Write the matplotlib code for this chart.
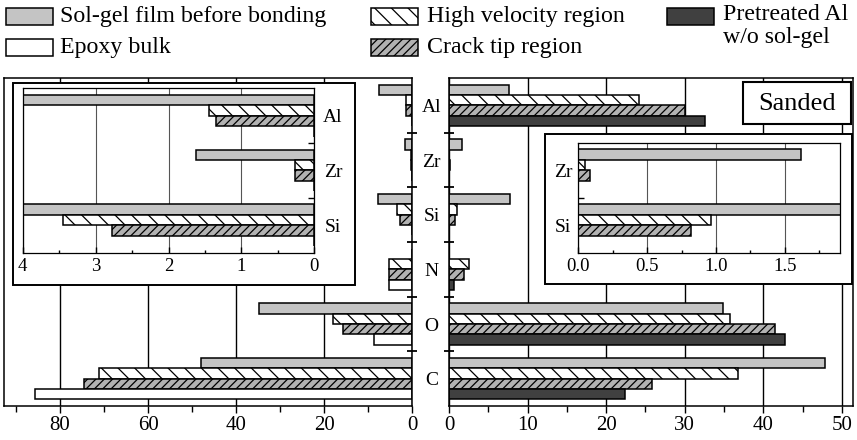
import numpy as np
import matplotlib
matplotlib.use("Agg")
import matplotlib.pyplot as plt
from matplotlib.patches import Rectangle

plt.rcParams['font.family'] = ['Liberation Serif', 'DejaVu Serif']
plt.rcParams['hatch.linewidth'] = 0.9
plt.rcParams['axes.linewidth'] = 1.1

# data (atomic %)
elements = ['Al', 'Zr', 'Si', 'N', 'O', 'C']
sol_gel = [7.6, 1.62, 7.8, 0, 34.8, 47.9]
# left panel: after bonding, epoxy side
high_vel_l = [1.45, 0.27, 3.45, 5.3, 17.9, 71.1]
crack_l = [1.35, 0.27, 2.78, 5.2, 15.7, 74.5]
epoxy = [0, 0, 0, 5.2, 8.8, 85.7]
# right panel: metal side
high_vel_r = [24.2, 0.05, 0.96, 2.5, 35.7, 36.8]
crack_r = [30.0, 0.085, 0.82, 1.85, 41.5, 25.8]
pretreated = [32.6, 0, 0, 0.6, 42.8, 22.4]

labels = ['Sol-gel film before bonding', 'High velocity region',
          'Pretreated Al\nw/o sol-gel', 'Epoxy bulk', 'Crack tip region']

GRAY = dict(facecolor='#c4c4c4')
HV = dict(facecolor='white', hatch='\\\\')
CT = dict(facecolor='#b2b2b2', hatch='////')
EP = dict(facecolor='white')
PA = dict(facecolor='#404040')

W, H = 857, 440
fig = plt.figure(figsize=(W / 100, H / 100), dpi=100)


def rect(x0, y0, x1, y1):
    return [x0 / W, 1 - y1 / H, (x1 - x0) / W, (y1 - y0) / H]


bh = 0.19
ypos = np.arange(len(elements))


def draw_bars(ax, series, styles):
    for k, (vals, st) in enumerate(zip(series, styles)):
        ax.barh(ypos + (k - 1.5) * bh, vals, height=bh, edgecolor='black',
                linewidth=1.1, **st)


ax_l = fig.add_axes(rect(4, 78, 412.3, 406))
ax_r = fig.add_axes(rect(449, 78, 853, 406))

draw_bars(ax_l, [sol_gel, high_vel_l, crack_l, epoxy], [GRAY, HV, CT, EP])
draw_bars(ax_r, [sol_gel, high_vel_r, crack_r, pretreated], [GRAY, HV, CT, PA])

ax_l.set_xlim(92.7, 0)
ax_l.set_xticks([0, 20, 40, 60, 80])
ax_l.set_xticks(np.arange(10, 91, 20), minor=True)
ax_r.set_xlim(0, 51.4)
ax_r.set_xticks([0, 10, 20, 30, 40, 50])
ax_r.set_xticks(np.arange(5, 51, 10), minor=True)

for ax in (ax_l, ax_r):
    ax.set_ylim(5.5, -0.5)
    ax.set_axisbelow(True)
    ax.grid(axis='x', which='major', color='black', linewidth=1.0)
    ax.tick_params(axis='x', which='major', direction='out', length=5, width=1,
                   labelsize=15, pad=2)
    ax.tick_params(axis='x', which='minor', direction='out', length=4, width=1)
    ax.set_yticks(np.arange(0.5, 5, 1), minor=True)
    ax.tick_params(axis='y', which='minor', direction='inout', length=7, width=1.3)

ax_l.yaxis.tick_right()
ax_l.set_yticks([])
ax_l.set_yticks(np.arange(0.5, 5, 1), minor=True)
ax_r.set_yticks(ypos, elements)
ax_r.tick_params(axis='y', which='major', length=0, pad=12.5, labelsize=14)
for t in ax_r.get_yticklabels():
    t.set_horizontalalignment('center')

# overlay for boxes and legend, in pixel coordinates
lay = fig.add_axes([0, 0, 1, 1], zorder=2)
lay.set_xlim(0, W)
lay.set_ylim(H, 0)
lay.axis('off')

lay.add_patch(Rectangle((13.3, 83.3), 341.7, 201.7, facecolor='white',
                        edgecolor='black', linewidth=1.4))
lay.add_patch(Rectangle((545, 134.3), 306.7, 150, facecolor='white',
                        edgecolor='black', linewidth=1.4))
lay.add_patch(Rectangle((743.5, 82.3), 107.5, 42, facecolor='white',
                        edgecolor='black', linewidth=1.5))
lay.text(797, 103.5, 'Sanded', fontsize=19, ha='center', va='center')

leg_styles = [GRAY, HV, PA, EP, CT]
leg_pos = [(6, 8, 60), (370.7, 8, 427), (667.3, 8, 723), (6, 39, 60), (370.7, 39, 427)]
for st, lab, (px, py, tx) in zip(leg_styles, labels, leg_pos):
    lay.add_patch(Rectangle((px, py), 47, 17, edgecolor='black', linewidth=1.1, **st))
    if '\n' in lab:
        lay.text(tx, py - 3.5, lab, fontsize=17.2, ha='left', va='top', linespacing=1.1)
    else:
        lay.text(tx, py + 8.5, lab, fontsize=17.2, ha='left', va='center')

# insets
ax_il = fig.add_axes(rect(22.7, 88.3, 314.3, 252.7), zorder=3)
draw_bars(ax_il, [sol_gel, high_vel_l, crack_l, epoxy], [GRAY, HV, CT, EP])
ax_il.set_xlim(4, 0)
ax_il.set_ylim(2.5, -0.5)
ax_il.set_xticks([0, 1, 2, 3, 4])
ax_il.set_xticks(np.arange(0.5, 4, 1), minor=True)
ax_il.yaxis.tick_right()
ax_il.set_yticks([0, 1, 2], elements[:3])
ax_il.set_yticks([0.5, 1.5], minor=True)
ax_il.tick_params(axis='y', which='major', length=0, pad=13.5, labelsize=14)
for t in ax_il.get_yticklabels():
    t.set_horizontalalignment('center')

ax_ir = fig.add_axes(rect(578.3, 142.7, 840, 252.7), zorder=3)
draw_bars(ax_ir, [sol_gel, high_vel_r, crack_r, pretreated], [GRAY, HV, CT, PA])
ax_ir.set_xlim(0, 1.9)
ax_ir.set_ylim(2.5, 0.5)
ax_ir.set_xticks([0, 0.5, 1.0, 1.5], ['0.0', '0.5', '1.0', '1.5'])
ax_ir.set_xticks(np.arange(0.25, 1.9, 0.5), minor=True)
ax_ir.set_yticks([1, 2], elements[1:3])
ax_ir.set_yticks([1.5], minor=True)
ax_ir.tick_params(axis='y', which='major', length=0, pad=11, labelsize=14)
for t in ax_ir.get_yticklabels():
    t.set_horizontalalignment('center')

for ax in (ax_il, ax_ir):
    ax.set_axisbelow(True)
    ax.grid(axis='x', which='major', color='#555555', linewidth=0.8)
    ax.tick_params(axis='x', which='major', direction='in', length=4, width=1,
                   labelsize=13.5, pad=4)
    ax.tick_params(axis='x', which='minor', direction='in', length=2.5, width=1)
    ax.tick_params(axis='y', which='minor', direction='in', length=4, width=1)
    for s in ax.spines.values():
        s.set_linewidth(0.9)

fig.savefig('out.png', dpi=100)
